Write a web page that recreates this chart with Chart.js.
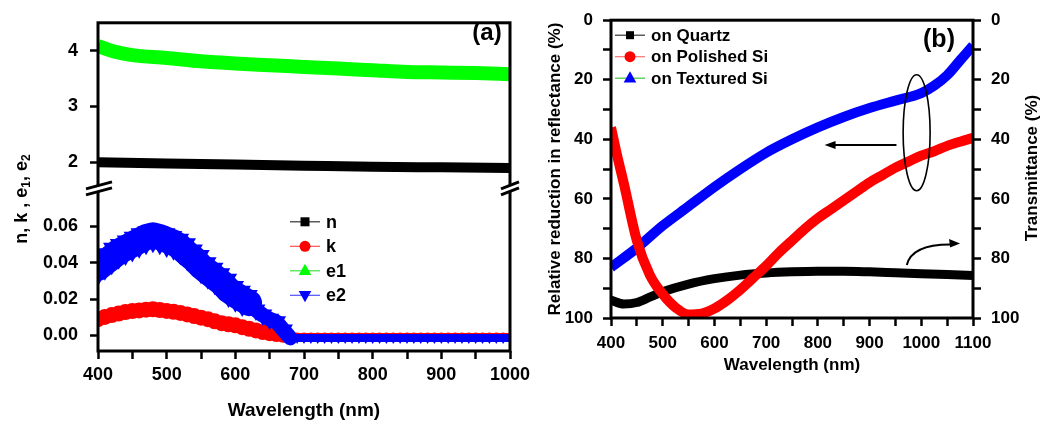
<!DOCTYPE html>
<html>
<head>
<meta charset="utf-8">
<script src="https://cdn.jsdelivr.net/npm/chart.js@4.4.0/dist/chart.umd.min.js"></script>
<style>
  body { margin: 0; background: #fff; }
  #wrap { position: relative; width: 1044px; height: 424px; overflow: hidden; background: #fff; }
  canvas { position: absolute; top: 0; }
  #chartA { left: 0; }
  #chartB { left: 540px; }
</style>
</head>
<body>
<div id="wrap">
  <canvas id="chartA" width="545" height="424"></canvas>
  <canvas id="chartB" width="504" height="424"></canvas>
</div>
<script>
// ---------- panel (a) data ----------
const waveA = [400,410,420,430,440,450,460,470,480,490,500,510,520,530,540,550,560,570,580,590,
               600,610,620,630,640,650,660,670,680,690,700,710,720,730,740,750,760,770,780,790,
               800,810,820,830,840,850,860,870,880,890,900,910,920,930,940,950,960,970,980,990,1000];
const kVals = [0.0090,0.0102,0.0112,0.0121,0.0129,0.0134,0.0138,0.0142,0.0144,0.0140,
               0.0135,0.0130,0.0124,0.0116,0.0107,0.0098,0.0090,0.0078,0.0068,0.0062,
               0.0056,0.0046,0.0037,0.0028,0.0019,0.0013,0.0008,0.0004,
               0,0,0,0,0,0,0,0,0,0, 0,0,0,0,0,0,0,0,0,0, 0,0,0,0,0,0,0,0,0,0, 0,0,0];
const e2Vals = [0.037,0.040,0.043,0.046,0.048,0.050,0.052,0.054,0.055,0.054,
                0.0525,0.051,0.0485,0.045,0.042,0.038,0.035,0.032,0.029,0.025,
                0.0224,0.020,0.0178,0.014,0.0112,0.009,0.0075,0.003,
                -0.0013,-0.0013,-0.0013,-0.0013,-0.0013,-0.0013,-0.0013,-0.0013,-0.0013,-0.0013,
                -0.0013,-0.0013,-0.0013,-0.0013,-0.0013,-0.0013,-0.0013,-0.0013,-0.0013,-0.0013,
                -0.0013,-0.0013,-0.0013,-0.0013,-0.0013,-0.0013,-0.0013,-0.0013,-0.0013,-0.0013,
                -0.0013,-0.0013,-0.0013];
const waveN = [400,500,600,700,800,900,1000];
const nVals = [2.00,1.98,1.96,1.94,1.92,1.91,1.90];
const waveE1 = [400,425,450,500,550,600,650,700,750,800,850,900,950,1000];
const e1Vals = [4.08,3.98,3.92,3.87,3.81,3.77,3.74,3.71,3.68,3.65,3.62,3.61,3.60,3.58];

// ---------- panel (b) data ----------
const waveRed = [400,410,425,450,475,500,525,550,575,600,625,650,675,700,725,750,775,800,
                 825,850,875,900,925,950,975,1000,1025,1050,1075,1100];
const redVals = [36,44,55,74,85.5,92,96.5,98.8,98.5,96.8,94,90.5,86.5,82.5,78,74,70,66.5,
                 63.5,60.5,57.5,54.5,52,49.5,47.5,45.5,44,42.2,40.8,39.5];
const waveBlue = [400,450,500,550,600,650,700,750,800,850,900,950,1000,1025,1050,1075,1100];
const blueVals = [83,76.5,69,62.5,56,50,44.5,40,36,32.5,29.5,27,24.5,22,18.5,13.5,8.5];
const waveBlack = [400,425,450,475,500,550,600,650,700,750,800,850,900,950,1000,1050,1100];
const blackVals = [94,95.3,94.8,93,91.2,88.6,86.8,85.6,84.9,84.5,84.3,84.3,84.5,84.8,85.1,85.4,85.7];

const FONT = '"Liberation Sans", Arial, sans-serif';
Chart.defaults.font.family = FONT;
Chart.defaults.color = '#000';

function pts(xs, ys) {
  return xs.map((x, i) => ({ x: x, y: ys[i] }));
}

function marker(ctx, style, x, y, r, color) {
  ctx.fillStyle = color;
  ctx.beginPath();
  if (style === 'square') {
    ctx.rect(x - r, y - r, 2 * r, 2 * r);
  } else if (style === 'circle') {
    ctx.arc(x, y, r, 0, Math.PI * 2);
  } else if (style === 'up') {
    ctx.moveTo(x, y - r); ctx.lineTo(x + r * 0.9, y + r * 0.6); ctx.lineTo(x - r * 0.9, y + r * 0.6);
  } else {
    ctx.moveTo(x, y + r); ctx.lineTo(x + r * 0.9, y - r * 0.6); ctx.lineTo(x - r * 0.9, y - r * 0.6);
  }
  ctx.closePath();
  ctx.fill();
}

function drawLegend(ctx, items, x0, y0, dy, size) {
  ctx.save();
  items.forEach((it, i) => {
    const y = y0 + i * dy;
    ctx.strokeStyle = it.line;
    ctx.lineWidth = 1.2;
    ctx.beginPath();
    ctx.moveTo(x0, y); ctx.lineTo(x0 + 30, y);
    ctx.stroke();
    marker(ctx, it.style, x0 + 15, y, it.r, it.color);
    ctx.fillStyle = '#000';
    ctx.font = 'bold ' + size + 'px ' + FONT;
    ctx.textAlign = 'left';
    ctx.textBaseline = 'middle';
    ctx.fillText(it.text, x0 + 36, y + 1);
  });
  ctx.restore();
}

function drawRotTitle(ctx, parts, cx, cy) {
  ctx.save();
  ctx.translate(cx, cy);
  ctx.rotate(-Math.PI / 2);
  ctx.fillStyle = '#000';
  ctx.textBaseline = 'middle';
  ctx.textAlign = 'left';
  let total = 0;
  parts.forEach(p => {
    ctx.font = 'bold ' + p.size + 'px ' + FONT;
    p.w = ctx.measureText(p.text).width;
    total += p.w;
  });
  let x = -total / 2;
  parts.forEach(p => {
    ctx.font = 'bold ' + p.size + 'px ' + FONT;
    ctx.fillText(p.text, x, p.dy || 0);
    x += p.w;
  });
  ctx.restore();
}

function frame(ctx, ca) {
  ctx.save();
  ctx.strokeStyle = '#000';
  ctx.lineWidth = 3;
  ctx.strokeRect(ca.left, ca.top, ca.right - ca.left, ca.bottom - ca.top);
  ctx.restore();
}

function breakMark(ctx, x, yb, a, b) {
  ctx.save();
  ctx.fillStyle = '#fff';
  ctx.beginPath();
  ctx.moveTo(x - a, yb + 2); ctx.lineTo(x + b, yb - 5);
  ctx.lineTo(x + b, yb + 1); ctx.lineTo(x - a, yb + 8);
  ctx.closePath();
  ctx.fill();
  ctx.strokeStyle = '#000';
  ctx.lineWidth = 3;
  ctx.beginPath();
  ctx.moveTo(x - a, yb + 2); ctx.lineTo(x + b, yb - 5);
  ctx.moveTo(x - a, yb + 8); ctx.lineTo(x + b, yb + 1);
  ctx.stroke();
  ctx.restore();
}

function tickGrid() {
  return { drawOnChartArea: false, drawTicks: true, tickLength: 8, tickWidth: 2.5, tickColor: '#000' };
}

// ---------- panel (a) ----------
const panelA = {
  id: 'panelA',
  afterDatasetsDraw(chart) {
    const ctx = chart.ctx, ca = chart.chartArea;
    const up = chart.scales.yTop, lo = chart.scales.yLow;
    frame(ctx, ca);
    const yb = up.top < lo.top ? up.bottom : lo.bottom;
    breakMark(ctx, ca.left, yb, 12, 14);
    breakMark(ctx, ca.right, yb, 9, 9);
    drawLegend(ctx, [
      { text: 'n', color: '#000', line: '#333', style: 'square', r: 4.5 },
      { text: 'k', color: '#ff0000', line: '#ff5050', style: 'circle', r: 5.5 },
      { text: 'e1', color: '#00ff00', line: '#40e040', style: 'up', r: 7 },
      { text: 'e2', color: '#0000ff', line: '#5050ff', style: 'down', r: 7 }
    ], ca.left + 192, ca.top + 199, 24.5, 18);
    ctx.save();
    ctx.fillStyle = '#000';
    ctx.font = 'bold 24px ' + FONT;
    ctx.textAlign = 'center';
    ctx.textBaseline = 'middle';
    ctx.fillText('(a)', 487, 33);
    ctx.restore();
    drawRotTitle(ctx, [
      { text: 'n, k , e', size: 18 },
      { text: '1', size: 12, dy: 5 },
      { text: ', e', size: 18 },
      { text: '2', size: 12, dy: 5 }
    ], 22, 199);
  }
};

new Chart(document.getElementById('chartA'), {
  type: 'line',
  data: {
    datasets: [
      {
        label: 'e2', data: pts(waveA, e2Vals), yAxisID: 'yLow', order: 0,
        borderColor: '#0000ff', backgroundColor: '#0000ff',
        borderCapStyle: 'round', borderJoinStyle: 'round',
        segment: { borderWidth: c => c.p0.parsed.x < 620 ? 26 : (c.p0.parsed.x < 680 ? 15 : 8) },
        pointStyle: 'triangle', pointRotation: 180, pointBorderWidth: 0,
        pointRadius: c => c.parsed.x < 620 ? 18 : (c.parsed.x < 680 ? 11 : 6)
      },
      {
        label: 'k', data: pts(waveA, kVals), yAxisID: 'yLow', order: 1,
        borderColor: '#ff0000', backgroundColor: '#ff0000',
        borderCapStyle: 'round', borderJoinStyle: 'round',
        segment: { borderWidth: c => c.p0.parsed.x < 680 ? 10 : 5 },
        pointStyle: 'circle', pointBorderWidth: 0,
        pointRadius: c => c.parsed.x < 680 ? 8 : 3
      },
      {
        label: 'e1', data: pts(waveE1, e1Vals), yAxisID: 'yTop', order: 2,
        borderColor: '#00ff00', borderWidth: 14, pointRadius: 0,
        cubicInterpolationMode: 'monotone'
      },
      {
        label: 'n', data: pts(waveN, nVals), yAxisID: 'yTop', order: 3,
        borderColor: '#000', borderWidth: 10, pointRadius: 0,
        cubicInterpolationMode: 'monotone'
      }
    ]
  },
  options: {
    responsive: false,
    animation: false,
    devicePixelRatio: 1,
    layout: { padding: { left: 0, top: 13, right: 35, bottom: 0 } },
    plugins: { legend: { display: false }, tooltip: { enabled: false } },
    scales: {
      x: {
        type: 'linear', min: 400, max: 1000,
        border: { display: false },
        grid: tickGrid(),
        ticks: {
          stepSize: 50, autoSkip: false, maxRotation: 0, padding: 5,
          font: { size: 18, weight: 'bold' },
          callback: v => v % 100 === 0 ? v : ''
        },
        title: { display: true, text: 'Wavelength (nm)', font: { size: 19, weight: 'bold' }, padding: { top: 0, bottom: 2 } },
        afterFit: s => { s.height = 73; }
      },
      yLow: {
        type: 'linear', position: 'left', stack: 'nk', stackWeight: 1,
        min: -0.0085, max: 0.0816,
        border: { display: false },
        grid: Object.assign(tickGrid(), { tickColor: c => (c.tick && c.tick.value > 0.075) ? 'rgba(0,0,0,0)' : '#000' }),
        ticks: {
          stepSize: 0.01, includeBounds: false, padding: 12,
          font: { size: 18, weight: 'bold' },
          callback: v => (Math.round(v * 100) % 2 === 0 && v < 0.075) ? v.toFixed(2) : ''
        },
        afterFit: s => { s.width = 98; }
      },
      yTop: {
        type: 'linear', position: 'left', stack: 'nk', stackWeight: 1,
        min: 1.56, max: 4.5,
        border: { display: false },
        grid: tickGrid(),
        ticks: {
          stepSize: 0.5, includeBounds: false, padding: 12,
          font: { size: 18, weight: 'bold' },
          callback: v => Number.isInteger(v) ? v : ''
        },
        afterFit: s => { s.width = 98; }
      }
    }
  },
  plugins: [panelA]
});

// ---------- panel (b) ----------
const panelB = {
  id: 'panelB',
  afterDatasetsDraw(chart) {
    const ctx = chart.ctx, ca = chart.chartArea;
    const xs = chart.scales.x, ys = chart.scales.y;
    frame(ctx, ca);
    drawLegend(ctx, [
      { text: 'on Quartz', color: '#000', line: '#333', style: 'square', r: 4 },
      { text: 'on Polished Si', color: '#ff0000', line: '#ff7070', style: 'circle', r: 5.5 },
      { text: 'on Textured Si', color: '#0000ff', line: '#40c040', style: 'up', r: 7 }
    ], ca.left + 4, ca.top + 15, 21.5, 17);
    ctx.save();
    ctx.fillStyle = '#000';
    ctx.font = 'bold 25px ' + FONT;
    ctx.textAlign = 'center';
    ctx.textBaseline = 'middle';
    ctx.fillText('(b)', 399, 40);

    ctx.strokeStyle = '#000';
    ctx.lineWidth = 1.6;
    // ellipse round the two curves
    ctx.beginPath();
    ctx.ellipse(xs.getPixelForValue(991), ys.getPixelForValue(37.8), 13.5, 58, 0, 0, Math.PI * 2);
    ctx.stroke();
    // arrow to left axis
    const ay = ys.getPixelForValue(41.9);
    const ax0 = xs.getPixelForValue(952), ax1 = xs.getPixelForValue(813);
    ctx.lineWidth = 2;
    ctx.beginPath();
    ctx.moveTo(ax0, ay); ctx.lineTo(ax1 + 6, ay);
    ctx.stroke();
    ctx.beginPath();
    ctx.moveTo(ax1, ay); ctx.lineTo(ax1 + 11, ay - 4); ctx.lineTo(ax1 + 11, ay + 4);
    ctx.closePath();
    ctx.fill();
    // curved arrow to right axis
    const sx = xs.getPixelForValue(972), sy = ys.getPixelForValue(82.2);
    const cx = xs.getPixelForValue(982), cy = ys.getPixelForValue(74.9);
    const ex = xs.getPixelForValue(1064), ey = ys.getPixelForValue(75.3);
    ctx.beginPath();
    ctx.moveTo(sx, sy); ctx.quadraticCurveTo(cx, cy, ex, ey);
    ctx.stroke();
    const tx = xs.getPixelForValue(1075), ty = ys.getPixelForValue(75.0);
    ctx.beginPath();
    ctx.moveTo(tx, ty); ctx.lineTo(tx - 11, ty - 4.5); ctx.lineTo(tx - 10, ty + 4);
    ctx.closePath();
    ctx.fill();
    ctx.restore();

    drawRotTitle(ctx, [{ text: 'Transmittance (%)', size: 17 }], 492, 168);
  }
};

function pctAxis(pos) {
  return {
    type: 'linear', position: pos, reverse: true, min: 0, max: 100,
    border: { display: false },
    grid: tickGrid(),
    ticks: {
      stepSize: 10, padding: 10,
      font: { size: 17, weight: 'bold' },
      callback: v => v % 20 === 0 ? v : ''
    },
    afterFit: s => { s.width = 71; }
  };
}

const yLeft = pctAxis('left');
yLeft.title = { display: true, text: 'Relative reduction in reflectance (%)', font: { size: 17, weight: 'bold' }, padding: { top: 5, bottom: 0 } };

new Chart(document.getElementById('chartB'), {
  type: 'line',
  data: {
    datasets: [
      {
        label: 'on Polished Si', data: pts(waveRed, redVals), yAxisID: 'y', order: 0,
        borderColor: '#ff0000', borderWidth: 10, pointRadius: 0, cubicInterpolationMode: 'monotone'
      },
      {
        label: 'on Textured Si', data: pts(waveBlue, blueVals), yAxisID: 'y', order: 1,
        borderColor: '#0000ff', borderWidth: 10, pointRadius: 0, cubicInterpolationMode: 'monotone'
      },
      {
        label: 'on Quartz', data: pts(waveBlack, blackVals), yAxisID: 'y1', order: 2,
        borderColor: '#000', borderWidth: 9, pointRadius: 0, cubicInterpolationMode: 'monotone'
      }
    ]
  },
  options: {
    responsive: false,
    animation: false,
    devicePixelRatio: 1,
    layout: { padding: { left: 0, top: 18, right: 0, bottom: 0 } },
    plugins: { legend: { display: false }, tooltip: { enabled: false } },
    scales: {
      x: {
        type: 'linear', min: 400, max: 1100,
        border: { display: false },
        grid: tickGrid(),
        ticks: {
          stepSize: 50, autoSkip: false, maxRotation: 0, padding: 7,
          font: { size: 17, weight: 'bold' },
          callback: v => v % 100 === 0 ? v : ''
        },
        title: { display: true, text: 'Wavelength (nm)', font: { size: 17, weight: 'bold' }, padding: { top: 0, bottom: 48 } },
        afterFit: s => { s.height = 106; }
      },
      y: yLeft,
      y1: pctAxis('right')
    }
  },
  plugins: [panelB]
});
</script>
</body>
</html>
